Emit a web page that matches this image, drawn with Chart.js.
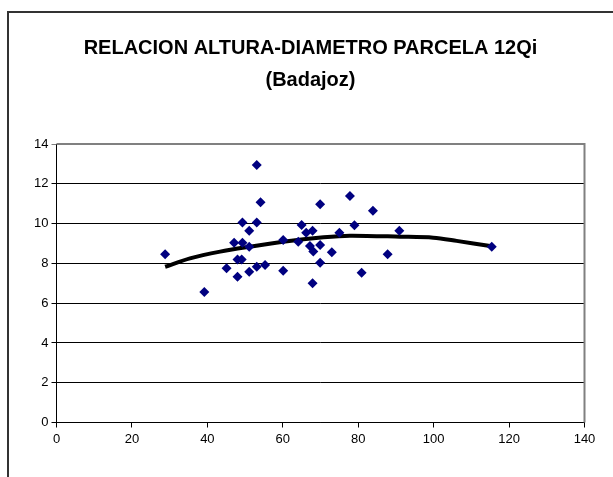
<!DOCTYPE html>
<html><head><meta charset="utf-8">
<script src="https://cdn.jsdelivr.net/npm/chart.js@4/dist/chart.umd.min.js"></script>
<style>html,body{margin:0;padding:0;background:#fff}#wrap{width:613px;height:477px;position:relative}</style>
</head><body><div id="wrap"><canvas id="c" width="613" height="477"></canvas></div>
<script>
const titleLines = ["RELACION ALTURA-DIAMETRO PARCELA 12Qi", "(Badajoz)"];
const diametro = [28.8,39.2,53.1,54.1,49.3,53.1,51.1,47.1,49.3,51.1,60.1,48.0,49.1,45.1,48.0,51.1,53.1,55.3,60.1,65.0,66.2,67.9,64.1,67.2,69.9,68.1,69.9,73.0,67.9,69.9,77.8,83.9,75.0,79.0,80.9,87.8,90.9,115.4];
const altura   = [8.46,6.56,12.95,11.07,10.05,10.05,9.64,9.04,9.04,8.84,9.18,8.2,8.2,7.75,7.33,7.58,7.83,7.92,7.63,9.93,9.54,9.64,9.09,8.87,8.92,8.59,8.03,8.56,7.0,10.97,11.39,10.65,9.54,9.91,7.53,8.46,9.64,8.84];
const trendX = [28.8,35.4,43.4,51.3,60.1,70.8,77.8,91.1,99.9,106.1,115.0];
const trendY = [7.83,8.25,8.59,8.84,9.09,9.31,9.39,9.34,9.29,9.13,8.87];
const xTicks = [0,20,40,60,80,100,120,140];
const yTicks = [0,2,4,6,8,10,12,14];

const pts = diametro.map((x,i)=>({x, y: altura[i]}));
const trend = trendX.map((x,i)=>({x, y: trendY[i]}));

const framePlugin = {
  id: 'frame',
  beforeDraw(chart){
    const ctx = chart.ctx;
    ctx.save();
    ctx.strokeStyle = '#333';
    ctx.lineWidth = 2;
    ctx.strokeRect(8, 12, 640, 500);
    ctx.restore();
  },
  beforeDatasetsDraw(chart){
    const a = chart.chartArea, ctx = chart.ctx;
    ctx.save();
    ctx.strokeStyle = '#808080';
    ctx.lineWidth = 2;
    ctx.beginPath();
    ctx.moveTo(a.left, a.top); ctx.lineTo(a.right, a.top); ctx.lineTo(a.right, a.bottom);
    ctx.stroke();
    ctx.restore();
  }
};

const FONT = 'Liberation Sans, Arial, sans-serif';

new Chart(document.getElementById('c'), {
  type: 'scatter',
  data: {
    datasets: [
      { label: 'Altura', data: pts, pointStyle: 'rectRot', pointRadius: 5, pointHoverRadius: 5,
        backgroundColor: '#000080', borderColor: '#000080', borderWidth: 0, order: 1 },
      { label: 'Tendencia', type: 'line', data: trend, borderColor: '#000', borderWidth: 4,
        pointRadius: 0, tension: 0.3, fill: false, showLine: true, order: 2 }
    ]
  },
  options: {
    responsive: false, animation: false, devicePixelRatio: 1,
    layout: { padding: { left: 8, right: 0, top: 0, bottom: 0 } },
    plugins: {
      legend: { display: false }, tooltip: { enabled: false },
      title: { display: true, text: titleLines, color: '#000',
        font: { family: FONT, size: 20, weight: 'bold', lineHeight: 1.6 },
        padding: { top: 32, bottom: 48 } }
    },
    scales: {
      x: { type: 'linear', min: 0, max: 140,
        afterBuildTicks: s => { s.ticks = xTicks.map(v=>({value:v})); },
        afterFit: s => { s.height = 54.5; },
        grid: { drawOnChartArea: false, drawTicks: true, tickLength: 5, color: '#000' },
        border: { color: '#000', width: 1 },
        ticks: { color: '#000', padding: 4, maxRotation: 0, font: { family: FONT, size: 13 } } },
      y: { type: 'linear', min: 0, max: 14,
        afterBuildTicks: s => { s.ticks = yTicks.map(v=>({value:v})); },
        afterFit: s => { s.width = 48.5; },
        grid: { drawOnChartArea: true, drawTicks: true, tickLength: 5,
          color: c => (c.tick && c.tick.value === 14) ? '#808080' : '#000' },
        border: { color: '#000', width: 1 },
        ticks: { color: '#000', padding: 3, font: { family: FONT, size: 13 } } },
      yr: { type: 'linear', position: 'right', min: 0, max: 14,
        afterFit: s => { s.width = 28.5; },
        grid: { display: false, drawOnChartArea: false }, border: { display: false },
        ticks: { display: false } }
    }
  },
  plugins: [framePlugin]
});
</script></body></html>
